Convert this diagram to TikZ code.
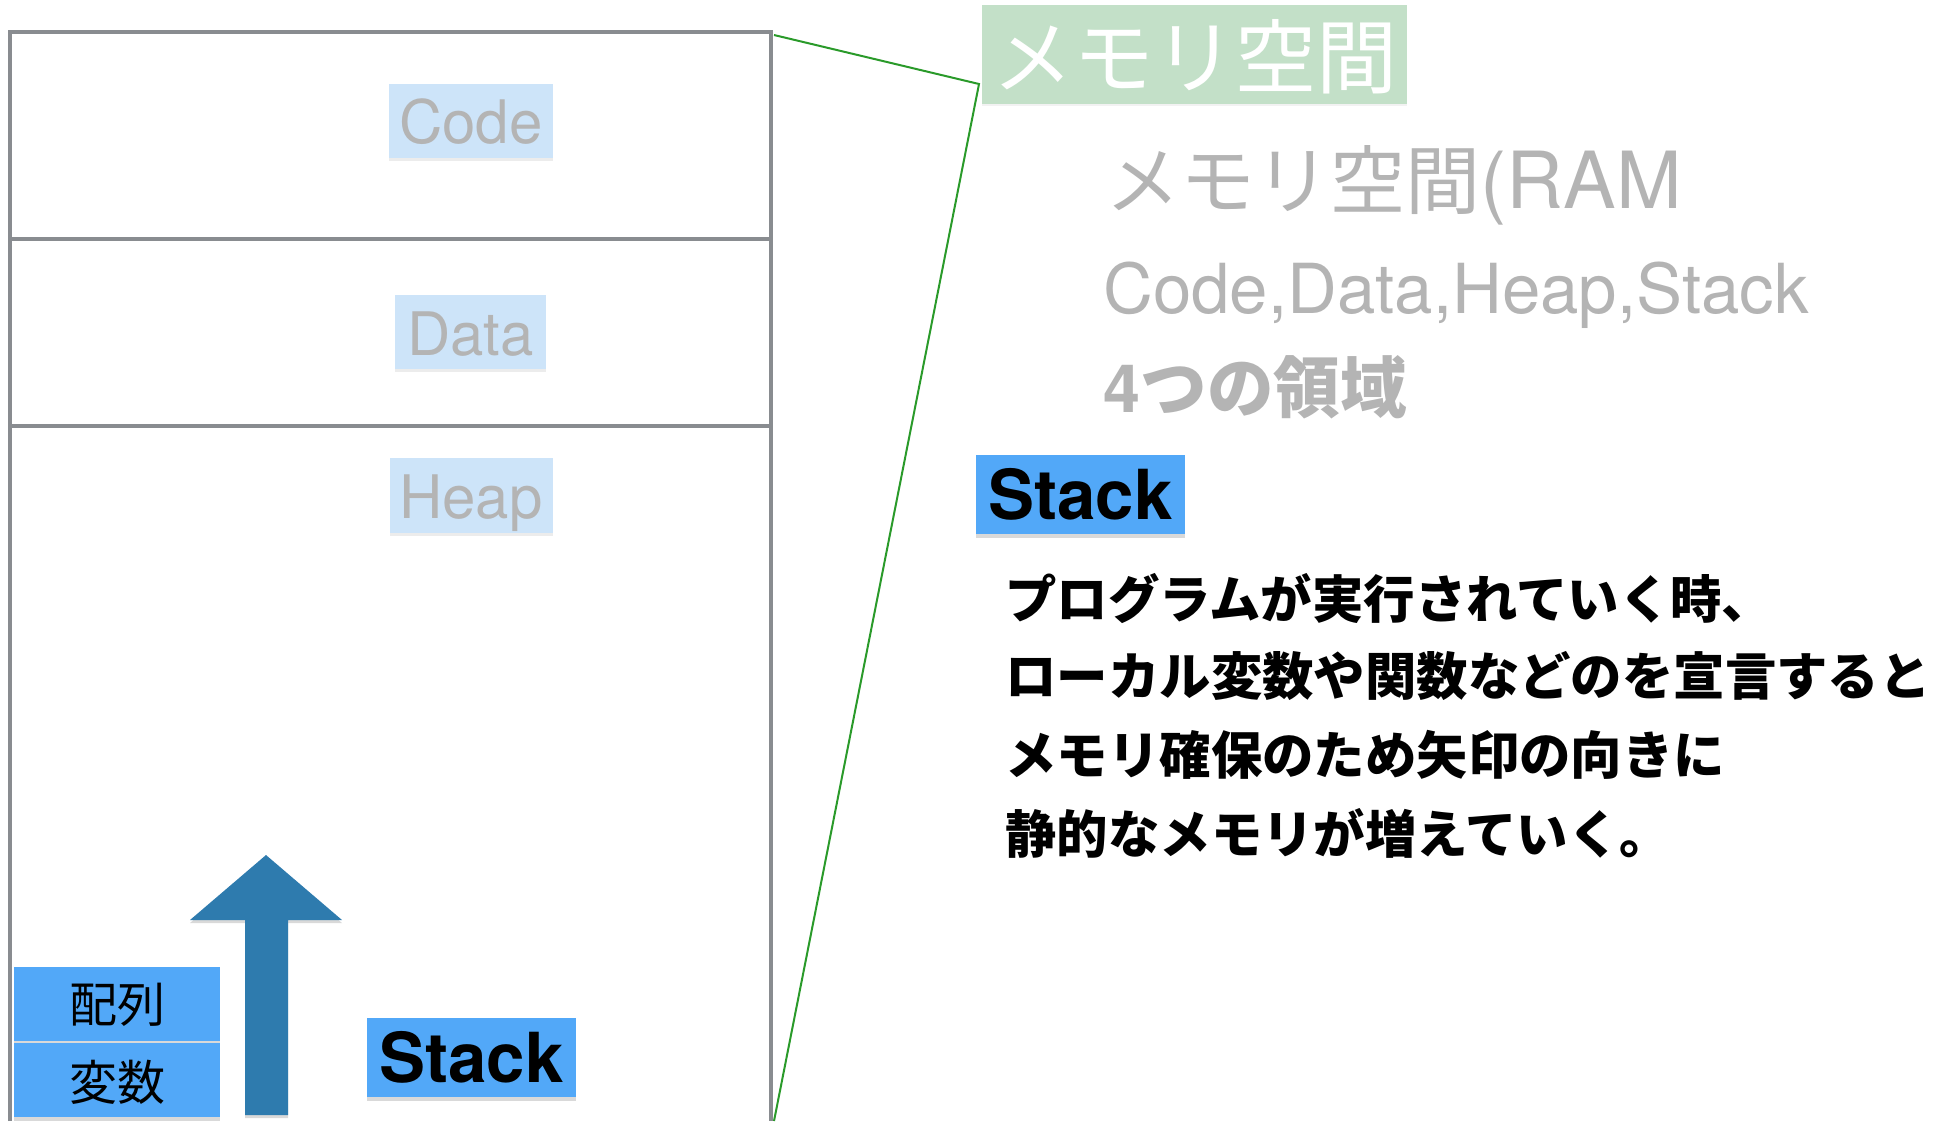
\documentclass[tikz,border=0pt]{standalone}
\usepackage{fontspec}
\setmainfont{TeX Gyre Heros}
\newfontfamily\jp{Noto Sans CJK JP}
\usetikzlibrary{shadows}
\definecolor{framegray}{HTML}{898C90}
\definecolor{lblue}{HTML}{CDE4F9}
\definecolor{ltext}{HTML}{B4B4B4}
\definecolor{mgreen}{HTML}{C3E0C8}
\definecolor{lgreen}{HTML}{2A9A2A}
\definecolor{sblue}{HTML}{52A8F8}
\definecolor{arrowblue}{HTML}{2E7BAE}
\begin{document}
\begin{tikzpicture}[x=0.5pt,y=-0.5pt,
  box/.style={inner sep=0pt, text depth=0pt},
  seglabel/.style={box, fill=lblue, text=ltext, font=\fontsize{30}{36}\selectfont,
    drop shadow={shadow xshift=0pt, shadow yshift=-1.5pt, opacity=0.15}},
  bluebox/.style={box, fill=sblue, text=black,
    drop shadow={shadow xshift=0pt, shadow yshift=-2pt, opacity=0.3}},
  stacklabel/.style={bluebox, font=\fontsize{34.5}{40}\selectfont\bfseries,
    minimum width=104.5pt, minimum height=39.5pt, text height=24.5pt},
  varlabel/.style={bluebox, font=\fontsize{24}{28}\jp, minimum width=103pt, minimum height=37pt},
  graynote/.style={anchor=base west, inner sep=0pt, text=ltext},
  bodyline/.style={anchor=base west, inner sep=0pt, text=black, font=\fontsize{25.7}{30}\jp\bfseries},
  frame/.style={draw=framegray, line width=1.8pt},
  zoomline/.style={draw=lgreen, line width=1pt}
]
\useasboundingbox (0,0) rectangle (1953,1121);
% memory frame
\coordinate (fBL) at (10,1121);
\coordinate (fTL) at (10,32);
\coordinate (fTR) at (771,32);
\coordinate (fBR) at (771,1121);
\draw[frame] (fBL) -- (fTL) -- (fTR) -- (fBR);
\coordinate (d1L) at (10,239);
\coordinate (d1R) at (771,239);
\coordinate (d2L) at (10,426);
\coordinate (d2R) at (771,426);
\draw[frame] (d1L) -- (d1R);
\draw[frame] (d2L) -- (d2R);
% segment labels
\node[seglabel, minimum width=82pt, minimum height=37pt, text height=22pt] (code) at (471,121) {Code};
\node[seglabel, minimum width=75.5pt, minimum height=37pt, text height=23pt] (data) at (470.5,332) {Data};
\node[seglabel, minimum width=81.5pt, minimum height=37.5pt, text height=22.5pt] (heap) at (471,495.5) {Heap};
% arrow
\fill[arrowblue, drop shadow={shadow xshift=0pt, shadow yshift=-1.5pt, opacity=0.3}]
  (245,1115) -- (245,920) -- (190,920) -- (266,855) -- (342,920) -- (288,920) -- (288,1115) -- cycle;
% stack items
\node[varlabel, text height=18pt] (hairetsu) at (117,1004) {配列};
\node[varlabel, text height=20pt] (hensu) at (117,1080) {変数};
\node[stacklabel] (stackL) at (471.5,1057.5) {Stack};
% zoom lines
\coordinate (gA) at (774,35);
\coordinate (gB) at (979,84);
\coordinate (gC) at (774,1121);
\draw[zoomline] (gA) -- (gB) -- (gC);
% title
\node[box, fill=mgreen, text=white, font=\fontsize{40.5}{44}\jp, minimum width=212.5pt, minimum height=49.5pt, text height=32.5pt,
  drop shadow={shadow xshift=0pt, shadow yshift=-1pt, opacity=0.1}] (title) at (1194.5,54.5) {メモリ空間};
% notes
\node[graynote, font=\fontsize{37.5}{44}\selectfont] (ram) at (1105,208) {{\jp メモリ空間}{\fontsize{39.4}{44}\selectfont(RAM}};
\node[graynote, font=\fontsize{34.5}{40}\selectfont] (areas) at (1103,313) {Code,Data,Heap,Stack};
\node[graynote, font=\fontsize{33.3}{38}\selectfont\bfseries] (four) at (1103,412) {4{\jp つの領域}};
\node[stacklabel] (stackR) at (1080.5,494.5) {Stack};
% body
\node[bodyline] (l1) at (1005,618) {プログラムが実行されていく時、};
\node[bodyline] (l2) at (1005,695) {ローカル変数や関数などのを宣言すると};
\node[bodyline] (l3) at (1005,774) {メモリ確保のため矢印の向きに};
\node[bodyline] (l4) at (1005,853) {静的なメモリが増えていく。};
\end{tikzpicture}
\end{document}
